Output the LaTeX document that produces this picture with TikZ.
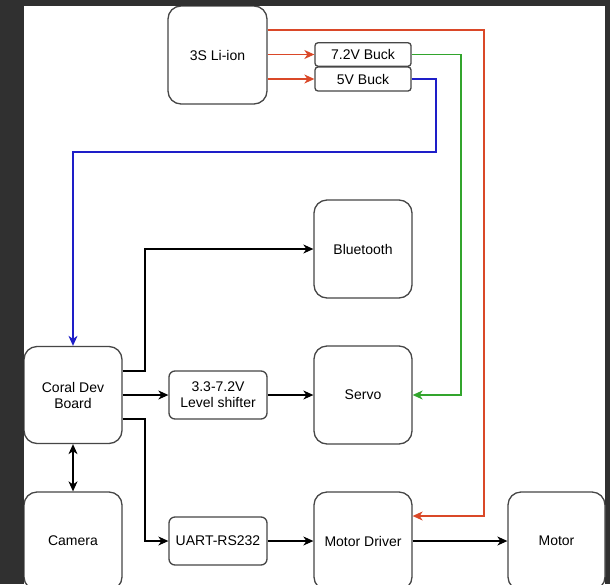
\documentclass[tikz,border=0pt]{standalone}
\usepackage{fontspec}
\setmainfont{Liberation Sans}
\usetikzlibrary{arrows.meta}
\definecolor{bgdark}{RGB}{48,48,48}
\definecolor{boxline}{RGB}{70,70,70}
\definecolor{pred}{RGB}{218,72,40}
\definecolor{pgreen}{RGB}{50,165,45}
\definecolor{pblue}{RGB}{30,30,200}
\tikzset{
  bigbox/.style={draw=boxline, line width=1.3pt, rounded corners=13pt, fill=white,
    minimum width=98pt, minimum height=98pt, align=center, inner sep=2pt,
    font=\fontsize{14}{16}\selectfont},
  smallbox/.style={draw=boxline, line width=1.3pt, rounded corners=6pt, fill=white,
    minimum width=98pt, minimum height=48pt, align=center, inner sep=2pt,
    font=\fontsize{14}{16}\selectfont},
  buckbox/.style={draw=boxline, line width=1.3pt, rounded corners=3pt, fill=white,
    minimum width=96pt, minimum height=23.5pt, align=center, inner sep=1pt,
    font=\fontsize{14}{16}\selectfont},
  tip/.tip={Stealth[length=10pt,width=9pt,inset=3pt]},
  conn/.style={line width=1.1pt, -tip},
  pwr/.style={line width=1.2pt, -tip},
}
\begin{document}
\begin{tikzpicture}[x=1pt,y=-1pt]
\useasboundingbox (0,0) rectangle (610,584);
\fill[bgdark] (0,0) rectangle (610,584);
\fill[white] (24,6) rectangle (605,584);
\clip (24,6) rectangle (605,584);

\node[bigbox, minimum width=99pt] (li) at (217.5,55) {3S Li-ion};
\node[buckbox] (b72) at (363,54.5) {7.2V Buck};
\node[buckbox, minimum height=24pt] (b5) at (363,79) {5V Buck};

\node[bigbox] (bt) at (363,249) {Bluetooth};
\node[bigbox, minimum height=97pt] (coral) at (73,395) {Coral Dev\\Board};
\node[smallbox] (ls) at (218,395) {3.3-7.2V\\Level shifter};
\node[bigbox] (servo) at (363,395) {Servo};
\node[bigbox] (cam) at (73,541) {Camera};
\node[smallbox] (uart) at (218,541) {UART-RS232};
\node[bigbox] (md) at (363,541) {Motor Driver};
\node[bigbox, minimum width=97pt] (motor) at (556.5,541) {Motor};

% power
\draw[pwr, pred] (li.east |- b72.west) -- (b72.west);
\draw[pwr, pred] (li.east |- b5.west) -- (b5.west);
\draw[pwr, pred] (li.east |- 0,30) -- (484,30) -- (484,516) -- (md.east |- 0,516);
\draw[pwr, pgreen] (b72.east) -- (461,54.5) -- (461,395) -- (servo.east);
\draw[pwr, pblue] (b5.east) -- (436,79) -- (436,152) -- (coral.north |- 0,152) -- (coral.north);

% signals
\draw[conn] (coral.east |- 0,371) -- (145,371) -- (145,249) -- (bt.west);
\draw[conn] (coral.east) -- (ls.west);
\draw[conn] (ls.east) -- (servo.west);
\draw[conn] (coral.east |- 0,419) -- (145,419) -- (145,541) -- (uart.west);
\draw[conn] (uart.east) -- (md.west);
\draw[conn] (md.east) -- (motor.west);
\draw[line width=1.1pt, tip-tip] (coral.south) -- (cam.north);
\end{tikzpicture}
\end{document}
